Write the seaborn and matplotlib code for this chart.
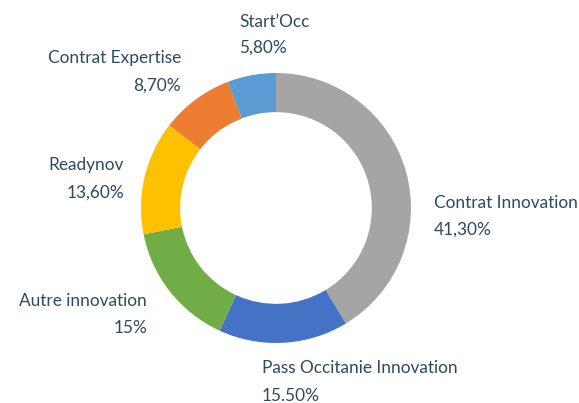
"""
Donut chart: distribution by programme
"""
import matplotlib
matplotlib.use("Agg")
import matplotlib.pyplot as plt
import seaborn as sns

# ── Data ──
categories = ["Contrat Innovation", "Pass Occitanie Innovation", "Autre innovation",
              "Readynov", "Contrat Expertise", "Start\u2019Occ"]
values = [41.3, 15.5, 15.0, 13.6, 8.7, 5.8]
value_labels = ["41,30%", "15.50%", "15%", "13,60%", "8,70%", "5,80%"]
colors = ["#A5A5A5", "#4472C4", "#70AD47", "#FFC000", "#ED7D31", "#5B9BD5"]

sns.set_theme(style="white")
plt.rcParams["font.family"] = ["Lato", "DejaVu Sans"]
text_color = "#2C4A63"

W, H = 579, 403
cx, cy, r = 276, 208, 135  # centre / rayon en pixels

fig = plt.figure(figsize=(W / 100, H / 100), dpi=100)
ax = fig.add_axes([0, 0, 1, 1])
ax.pie(values, colors=colors, startangle=90, counterclock=False,
       radius=1.0, wedgeprops=dict(width=0.29, edgecolor="none"))
ax.set_xlim(-cx / r, (W - cx) / r)
ax.set_ylim(-(H - cy) / r, cy / r)
ax.set_aspect("auto")
ax.axis("off")


def px(x, y):
    """pixel -> data"""
    return (x - cx) / r, (cy - y) / r


# (x, y nom, y valeur, alignement)
label_pos = [
    (434, 203, 230, "left"),
    (262, 368, 396, "left"),
    (147, 301, 328, "right"),
    (124, 165, 193, "right"),
    (181, 58, 86, "right"),
    (239, 22, 48, "left"),
]
for name, val, (x, y1, y2, ha) in zip(categories, value_labels, label_pos):
    ax.text(*px(x, y1), name, ha=ha, va="center", fontsize=12.4, color=text_color)
    ax.text(*px(x, y2), val, ha=ha, va="center", fontsize=12.4, color=text_color)

plt.savefig("out.png", dpi=100)
plt.close()
